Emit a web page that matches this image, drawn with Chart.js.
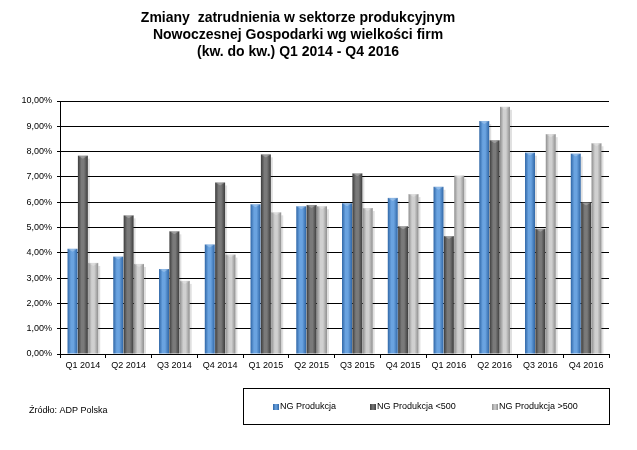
<!DOCTYPE html>
<html>
<head>
<meta charset="utf-8">
<script src="https://cdn.jsdelivr.net/npm/chart.js@4.4.0/dist/chart.umd.min.js"></script>
<style>
  html, body { margin: 0; padding: 0; background: #fff; }
  #wrap { width: 637px; height: 450px; position: relative; }
</style>
</head>
<body>
<div id="wrap"><canvas id="chart" width="637" height="450"></canvas></div>
<script>
// Data
const quarters = ["Q1 2014", "Q2 2014", "Q3 2014", "Q4 2014", "Q1 2015", "Q2 2015",
                  "Q3 2015", "Q4 2015", "Q1 2016", "Q2 2016", "Q3 2016", "Q4 2016"]
const ngProdukcja = [4.16, 3.85, 3.36, 4.33, 5.92, 5.84, 5.96, 6.17, 6.61, 9.21, 7.96, 7.92]
const ngProdukcjaSmall = [7.84, 5.48, 4.85, 6.78, 7.89, 5.89, 7.14, 5.05, 4.66, 8.45, 4.95, 5.99]
const ngProdukcjaLarge = [3.60, 3.56, 2.89, 3.93, 5.60, 5.84, 5.77, 6.32, 7.05, 9.77, 8.69, 8.33]
const seriesNames = ["NG Produkcja", "NG Produkcja <500", "NG Produkcja >500"]
const yTicks = [0, 1, 2, 3, 4, 5, 6, 7, 8, 9, 10]

const titleLines = [
    "Zmiany  zatrudnienia w sektorze produkcyjnym",
    "Nowoczesnej Gospodarki wg wielkości firm",
    "(kw. do kw.) Q1 2014 - Q4 2016"
]
const sourceText = "Źródło: ADP Polska"

// colours: [edge, middle highlight] per series
const barColors = [
    ["#2f66a6", "#6aa3e0"],
    ["#3c3c3c", "#7a7a7a"],
    ["#8e8e8e", "#d0d0d0"]
]

function formatPct(v) {
    return v.toFixed(2).replace(".", ",") + "%"
}

// draws each bar with a bevelled gradient look
const bevelBars = {
    id: "bevelBars",
    afterDatasetsDraw(chart) {
        const ctx = chart.ctx
        chart.data.datasets.forEach((ds, di) => {
            const meta = chart.getDatasetMeta(di)
            const cols = barColors[di]
            meta.data.forEach((bar) => {
                const left = bar.x - bar.width / 2
                const w = bar.width
                const top = bar.y
                const h = bar.base - bar.y
                // shadow
                ctx.save()
                ctx.fillStyle = "rgba(0,0,0,0.12)"
                ctx.fillRect(left + w, top + 3, 2, h - 3)
                const g = ctx.createLinearGradient(left, 0, left + w, 0)
                g.addColorStop(0, cols[0])
                g.addColorStop(0.35, cols[1])
                g.addColorStop(0.6, cols[1])
                g.addColorStop(1, cols[0])
                ctx.fillStyle = g
                ctx.fillRect(left, top, w, h)
                // top bevel
                ctx.fillStyle = "rgba(255,255,255,0.25)"
                ctx.beginPath()
                ctx.moveTo(left, top)
                ctx.lineTo(left + w, top)
                ctx.lineTo(left + w / 2, top + 3)
                ctx.closePath()
                ctx.fill()
                ctx.restore()
            })
        })
    }
}

// title, source note and boxed legend
const decorations = {
    id: "decorations",
    afterDraw(chart) {
        const ctx = chart.ctx
        ctx.save()
        ctx.fillStyle = "#000"
        ctx.font = "bold 14px 'Liberation Sans', Arial, sans-serif"
        ctx.textAlign = "center"
        ctx.textBaseline = "middle"
        titleLines.forEach((line, i) => {
            ctx.fillText(line, 298, 18 + i * 17)
        })

        ctx.font = "9px 'Liberation Sans', Arial, sans-serif"
        ctx.textAlign = "left"
        ctx.fillText(sourceText, 29, 411)

        ctx.strokeStyle = "#000"
        ctx.lineWidth = 1
        ctx.strokeRect(243.5, 388.5, 366, 36)

        const markerX = [273, 370, 492]
        seriesNames.forEach((name, i) => {
            const g = ctx.createLinearGradient(markerX[i], 0, markerX[i] + 6, 0)
            g.addColorStop(0, barColors[i][0])
            g.addColorStop(0.5, barColors[i][1])
            g.addColorStop(1, barColors[i][0])
            ctx.fillStyle = g
            ctx.fillRect(markerX[i], 404, 6, 6)
            ctx.fillStyle = "#000"
            ctx.fillText(name, markerX[i] + 7, 407)
        })
        ctx.restore()
    }
}

new Chart(document.getElementById("chart"), {
    type: "bar",
    data: {
        labels: quarters,
        datasets: [
            { label: seriesNames[0], data: ngProdukcja, backgroundColor: "rgba(0,0,0,0)" },
            { label: seriesNames[1], data: ngProdukcjaSmall, backgroundColor: "rgba(0,0,0,0)" },
            { label: seriesNames[2], data: ngProdukcjaLarge, backgroundColor: "rgba(0,0,0,0)" }
        ]
    },
    options: {
        responsive: false,
        animation: false,
        events: [],
        categoryPercentage: 0.68,
        barPercentage: 0.96,
        layout: { padding: { left: 0, right: 28, top: 101, bottom: 76 } },
        plugins: {
            legend: { display: false },
            title: { display: false },
            tooltip: { enabled: false }
        },
        scales: {
            y: {
                min: 0,
                max: 10,
                afterFit: (scale) => { scale.width = 60 },
                afterBuildTicks: (scale) => { scale.ticks = yTicks.map(v => ({ value: v })) },
                border: { display: true, color: "#000", width: 1 },
                grid: { color: "#000", lineWidth: 1, tickLength: 3, drawTicks: true },
                ticks: {
                    color: "#000",
                    padding: 5,
                    font: { family: "'Liberation Sans', Arial, sans-serif", size: 9 },
                    callback: (v) => formatPct(v)
                }
            },
            x: {
                afterFit: (scale) => { scale.height = 20 },
                border: { display: true, color: "#000", width: 1 },
                grid: { offset: true, drawOnChartArea: false, color: "#000", tickLength: 4 },
                ticks: {
                    color: "#000",
                    padding: 2,
                    maxRotation: 0,
                    autoSkip: false,
                    font: { family: "'Liberation Sans', Arial, sans-serif", size: 9 }
                }
            }
        }
    },
    plugins: [bevelBars, decorations]
})
</script>
</body>
</html>
